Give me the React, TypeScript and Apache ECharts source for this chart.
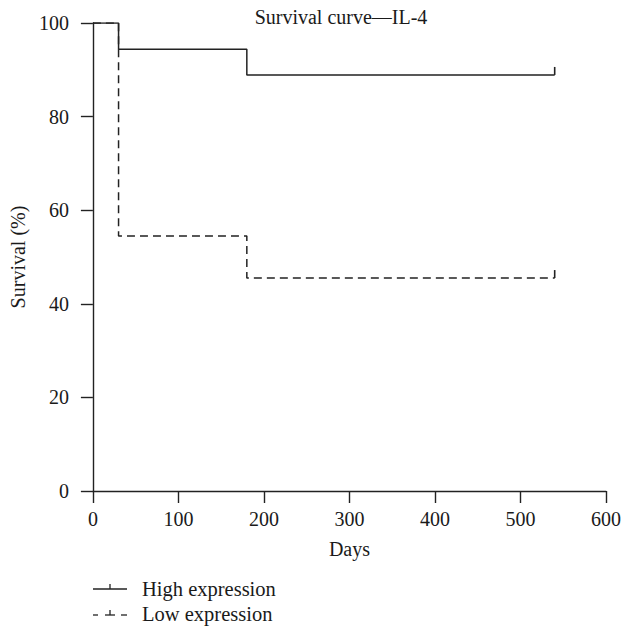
import React, { useEffect, useRef } from "react";
import * as echarts from "echarts";

const titleText = "Survival curve—IL-4";
const xTicks = [0, 100, 200, 300, 400, 500, 600];
const yTicks = [0, 20, 40, 60, 80, 100];
const highTimes = [0, 30, 180];
const highSurvival = [100, 94.4, 88.9];
const lowTimes = [0, 30, 180];
const lowSurvival = [100, 54.5, 45.5];
const followUpEnd = 540;
const seriesNames = ["High expression", "Low expression"];

function stepPoints(times: number[], surv: number[], end: number) {
  const pts: number[][] = [];
  for (let i = 0; i < times.length; i++) {
    if (i > 0) pts.push([times[i], surv[i - 1]]);
    pts.push([times[i], surv[i]]);
  }
  pts.push([end, surv[surv.length - 1]]);
  return pts;
}

const FONT = "'Liberation Serif', 'DejaVu Serif', serif";
const INK = "#222222";
const TXT = "#1a1a1a";
const FS = 20;

export default function App() {
  const ref = useRef<HTMLDivElement>(null);
  useEffect(() => {
    document.body.style.margin = "0";
    const chart = echarts.init(ref.current!, undefined, { renderer: "svg" });
    chart.setOption({
      animation: false,
      backgroundColor: "#ffffff",
      textStyle: { fontFamily: FONT },
      grid: { left: 92, right: 16, top: 23, bottom: 136, containLabel: false },
      xAxis: {
        type: "value",
        min: xTicks[0],
        max: xTicks[xTicks.length - 1],
        interval: 100,
        name: "Days",
        nameLocation: "middle",
        nameGap: 48,
        nameTextStyle: { fontFamily: FONT, fontSize: FS, color: TXT },
        axisLine: { lineStyle: { color: INK, width: 1.4 } },
        axisTick: { show: true, length: 12, lineStyle: { color: INK, width: 1.4 } },
        axisLabel: { fontFamily: FONT, fontSize: FS, color: TXT, margin: 18 },
        splitLine: { show: false },
      },
      yAxis: {
        type: "value",
        min: yTicks[0],
        max: yTicks[yTicks.length - 1],
        interval: 20,
        name: "Survival (%)",
        nameLocation: "middle",
        nameGap: 64,
        nameTextStyle: { fontFamily: FONT, fontSize: FS, color: TXT },
        axisLine: { show: true, lineStyle: { color: INK, width: 1.4 } },
        axisTick: { show: true, length: 12, lineStyle: { color: INK, width: 1.4 } },
        axisLabel: { fontFamily: FONT, fontSize: FS, color: TXT, margin: 24 },
        splitLine: { show: false },
      },
      series: [
        {
          name: seriesNames[0],
          type: "line",
          data: stepPoints(highTimes, highSurvival, followUpEnd),
          showSymbol: false,
          symbol: "none",
          lineStyle: { color: INK, width: 1.5, type: "solid" },
        },
        {
          name: seriesNames[1],
          type: "line",
          data: stepPoints(lowTimes, lowSurvival, followUpEnd),
          showSymbol: false,
          symbol: "none",
          lineStyle: { color: INK, width: 1.5, type: [8, 5] },
        },
        {
          type: "custom",
          silent: true,
          data: [
            [followUpEnd, highSurvival[highSurvival.length - 1]],
            [followUpEnd, lowSurvival[lowSurvival.length - 1]],
          ],
          renderItem: (params: any, api: any) => {
            const p = api.coord([api.value(0), api.value(1)]);
            return {
              type: "line",
              shape: { x1: p[0], y1: p[1], x2: p[0], y2: p[1] - 8 },
              style: { stroke: INK, lineWidth: 1.6 },
            };
          },
        },
      ],
      graphic: [
        { type: "text", x: 341, y: 17, style: { text: titleText, font: `${FS}px ${FONT}`, fill: TXT, align: "center", verticalAlign: "middle" } },
        { type: "line", shape: { x1: 93, y1: 589, x2: 127, y2: 589 }, style: { stroke: INK, lineWidth: 1.3 } },
        { type: "line", shape: { x1: 110, y1: 584, x2: 110, y2: 589 }, style: { stroke: INK, lineWidth: 1.3 } },
        { type: "text", x: 142, y: 589, style: { text: seriesNames[0], font: `20.5px ${FONT}`, fill: TXT, verticalAlign: "middle" } },
        { type: "line", shape: { x1: 93, y1: 615, x2: 98, y2: 615 }, style: { stroke: INK, lineWidth: 1.3 } },
        { type: "line", shape: { x1: 105, y1: 615, x2: 115, y2: 615 }, style: { stroke: INK, lineWidth: 1.3 } },
        { type: "line", shape: { x1: 121, y1: 615, x2: 127, y2: 615 }, style: { stroke: INK, lineWidth: 1.3 } },
        { type: "line", shape: { x1: 110, y1: 610, x2: 110, y2: 615 }, style: { stroke: INK, lineWidth: 1.3 } },
        { type: "text", x: 142, y: 614, style: { text: seriesNames[1], font: `20.5px ${FONT}`, fill: TXT, verticalAlign: "middle" } },
      ],
    });
    return () => chart.dispose();
  }, []);
  return <div ref={ref} style={{ width: 624, height: 627 }} />;
}
